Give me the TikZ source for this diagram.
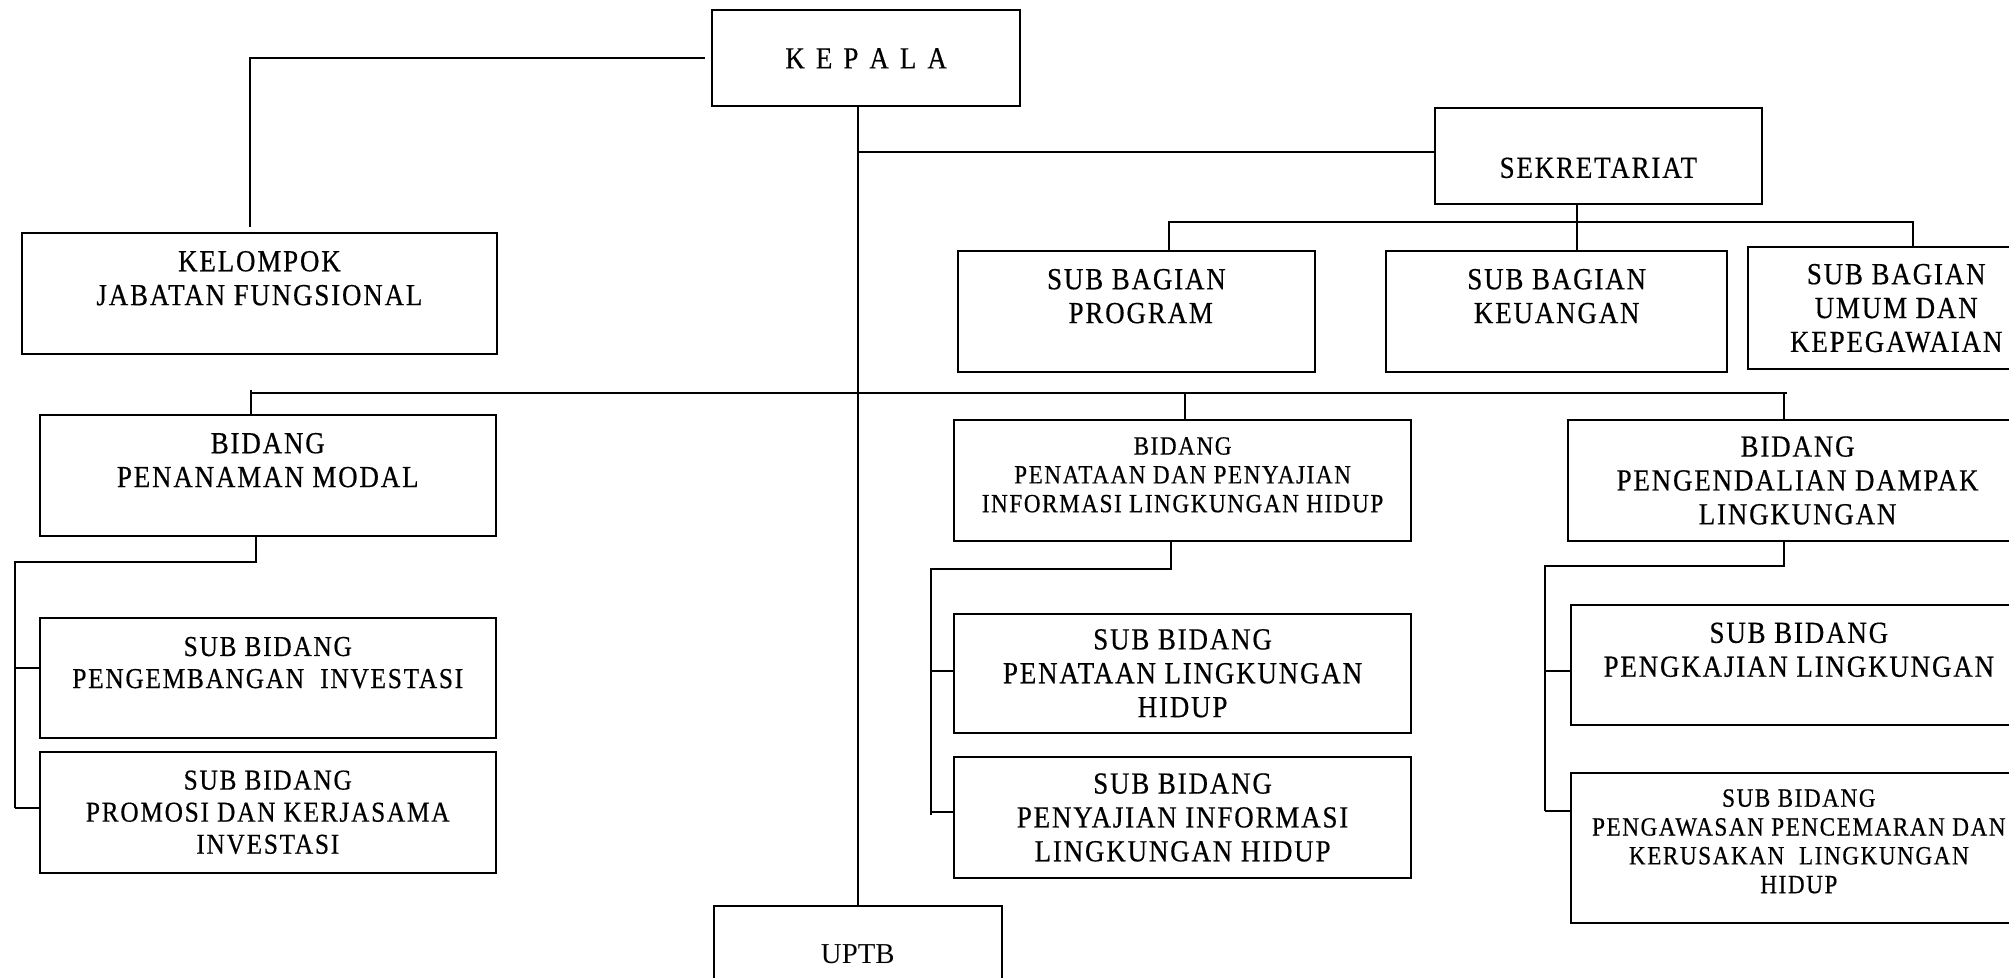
\documentclass[tikz,border=0pt]{standalone}
\usepackage{fontspec}
\setmainfont{Liberation Serif}[FakeStretch=0.88,LetterSpace=6,FakeBold=0.5]
\newfontfamily\uptbfont{Liberation Serif}

\begin{document}
\begin{tikzpicture}[x=0.025cm, y=-0.025cm,
    box/.style={draw, rectangle, line width=1.1pt, align=center, inner sep=0pt,
        font=\fontsize{17}{18.8}\selectfont},
    boxmd/.style={box, font=\fontsize{16}{17.8}\selectfont},
    boxsm/.style={box, font=\fontsize{14.6}{16}\selectfont},
    link/.style={line width=1.1pt}]
    \useasboundingbox (0,0) rectangle (1568,763);

    % Pimpinan
    \node[box, minimum width=6cm, minimum height=1.875cm] (kepala) at (676,45.5) {\addfontfeature{LetterSpace=14}K E P A L A};
    \node[box, minimum width=9.275cm, minimum height=2.35cm, text depth=17pt] (jfung) at (202.5,229) {KELOMPOK\\JABATAN FUNGSIONAL};

    % Sekretariat
    \node[box, minimum width=6.375cm, minimum height=1.875cm, text height=24.8pt] (sekr) at (1247.5,121.5) {SEKRETARIAT};
    \node[box, minimum width=6.95cm, minimum height=2.35cm, text depth=17pt] (subprog) at (887,243) {SUB BAGIAN\\\ PROGRAM};
    \node[box, minimum width=6.65cm, minimum height=2.35cm, text depth=17pt] (subkeu) at (1215,243) {SUB BAGIAN\\KEUANGAN};
    \node[box, minimum width=5.8cm, minimum height=2.375cm] (subumum) at (1480,240.5) {SUB BAGIAN\\UMUM DAN\\KEPEGAWAIAN};

    % Bidang Penanaman Modal
    \node[box, minimum width=8.9cm, minimum height=2.35cm, text depth=17pt] (bidpm) at (209,371) {BIDANG\\PENANAMAN MODAL};
    \node[boxmd, minimum width=8.9cm, minimum height=2.35cm, text depth=17pt] (sbinv) at (209,529) {SUB BIDANG\\PENGEMBANGAN\ \ INVESTASI};
    \node[boxmd, minimum width=8.9cm, minimum height=2.35cm] (sbpromo) at (209,634) {SUB BIDANG\\PROMOSI DAN KERJASAMA\\INVESTASI};

    % Bidang Penataan dan Penyajian
    \node[boxsm, minimum width=8.9cm, minimum height=2.35cm, text depth=6.4pt] (bidtata) at (923,375) {BIDANG\\PENATAAN DAN PENYAJIAN\\INFORMASI LINGKUNGAN HIDUP};
    \node[box, minimum width=8.9cm, minimum height=2.325cm] (sbtata) at (923,525.5) {SUB BIDANG\\PENATAAN LINGKUNGAN\\HIDUP};
    \node[box, minimum width=8.9cm, minimum height=2.35cm] (sbsaji) at (923,638) {SUB BIDANG\\PENYAJIAN INFORMASI\\LINGKUNGAN HIDUP};

    % Bidang Pengendalian Dampak
    \node[box, minimum width=8.95cm, minimum height=2.35cm] (biddampak) at (1403,375) {BIDANG\\PENGENDALIAN DAMPAK\\LINGKUNGAN};
    \node[box, minimum width=8.9cm, minimum height=2.35cm, text depth=17pt] (sbkaji) at (1404,519) {SUB BIDANG\\PENGKAJIAN LINGKUNGAN};
    \node[boxsm, minimum width=8.9cm, minimum height=2.925cm, text depth=7pt] (sbawas) at (1404,661.5) {SUB BIDANG\\PENGAWASAN PENCEMARAN DAN\\KERUSAKAN\ \ LINGKUNGAN\\HIDUP};

    % UPTB
    \node[box, font=\uptbfont\fontsize{16}{18}\selectfont, minimum width=5.625cm, minimum height=1.9cm] (uptb) at (669.5,745) {UPTB};

    % Connections
    \draw[link] ([xshift=-0.125cm]kepala.west) -| ([xshift=-0.1875cm, yshift=0.1cm]jfung.north);
    \draw[link] (kepala.south -| uptb.north) -- (uptb.north);
    \draw[link] (uptb.north |- 0,119) -- (sekr.west |- 0,119);

    \coordinate (sekbus) at (1231,173);
    \coordinate (sekL) at (912,173);
    \coordinate (sekR) at (1493,173);
    \draw[link] (sekbus |- sekr.south) -- (sekbus |- subkeu.north);
    \draw[link] (sekL |- subprog.north) -- (sekL) -- (sekR) -- (sekR |- subumum.north);

    \coordinate (busL) at (196,307);
    \coordinate (busM) at (925,307);
    \coordinate (busD) at (1392,307);
    \coordinate (busR) at (1395,307);
    \draw[link] ([yshift=0.075cm]busL) -- (busL |- bidpm.north);
    \draw[link] (busL) -- (busR);
    \draw[link] (busM) -- (busM |- bidtata.north);
    \draw[link] (busD) -- (busD |- biddampak.north);

    \coordinate (pmbus) at (12,439);
    \draw[link] (bidpm.south -| 200,0) |- (pmbus) -- (pmbus |- 0,631);
    \draw[link] (pmbus |- 0,521) -- (sbinv.west |- 0,521);
    \draw[link] (pmbus |- 0,631) -- (sbpromo.west |- 0,631);

    \coordinate (tbus) at (727,444);
    \draw[link] (bidtata.south -| 914,0) |- (tbus) -- (tbus |- 0,636);
    \draw[link] (tbus |- 0,524) -- (sbtata.west |- 0,524);
    \draw[link] (tbus |- 0,634) -- (sbsaji.west |- 0,634);

    \coordinate (dbus) at (1206,442);
    \draw[link] (biddampak.south -| busD) |- (dbus) -- (dbus |- 0,633);
    \draw[link] (dbus |- 0,524) -- (sbkaji.west |- 0,524);
    \draw[link] (dbus |- 0,633) -- (sbawas.west |- 0,633);
\end{tikzpicture}
\end{document}
